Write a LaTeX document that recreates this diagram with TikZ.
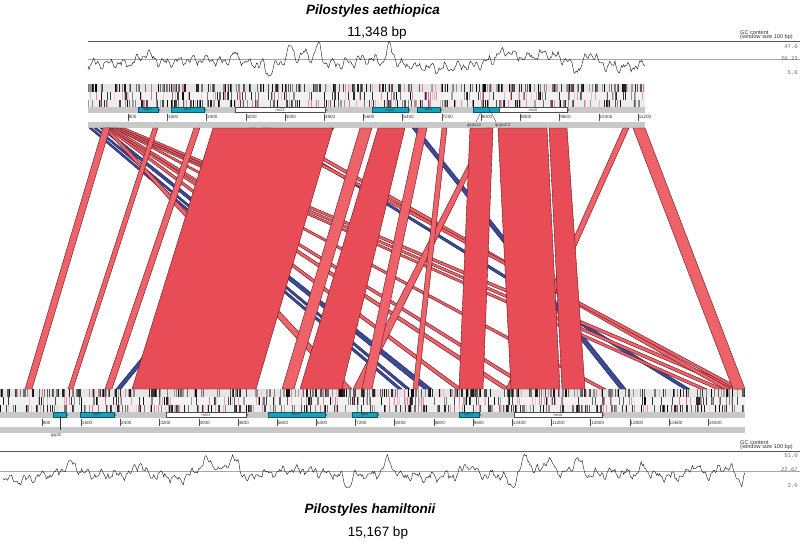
\documentclass[tikz,border=0pt]{standalone}
\usepackage{fontspec}
\setmainfont{Liberation Sans}
\newfontfamily\monof{Liberation Mono}
\definecolor{bandred}{RGB}{232,76,86}
\definecolor{bandlight}{RGB}{238,98,106}
\definecolor{bandedge}{RGB}{95,22,28}
\definecolor{bandblue}{RGB}{60,74,150}
\definecolor{blueedge}{RGB}{28,34,88}
\definecolor{genecyan}{RGB}{22,160,186}
\definecolor{barpink}{RGB}{222,110,152}
\definecolor{bargray}{RGB}{200,200,200}
\pgfmathdeclarefunction{bump}{3}{\pgfmathparse{exp(-1*(min(abs((#1-#2)/#3),4))^2)}}
\newcommand\xband[5]{\draw[#5] (#1,128) -- (#2,128) -- (#4,389) -- (#3,389) -- cycle;}
\newcommand\barrow[7]{% x0, len, y0, y1, n, colour, maxwidth
  \foreach \i in {1,...,#5}{%
    \pgfmathsetmacro\xx{#1+#2*rnd}%
    \pgfmathsetmacro\ww{0.25+#7*rnd}%
    \pgfmathtruncatemacro\gg{35+65*rnd}%
    \draw[line width=\ww pt, #6!\gg!white] (\xx,#3) -- (\xx,#4);
  }}
\newcommand\genebox[4]{% x0,x1,y0,label
  \draw[gene] (#1,#3) rectangle (#2,#3+5);
  \draw[tipline] (#2,#3+0.6) -- (#2+2.2,#3+2.5) -- (#2,#3+4.4);
  \node[genelab] at ({(#1+#2)/2},#3+2.5) {#4};}
\newcommand\rrnbox[4]{%
  \draw[rrn] (#1,#3) rectangle (#2,#3+5);
  \draw[tipline] (#2,#3+0.6) -- (#2+2.2,#3+2.5) -- (#2,#3+4.4);
  \node[genelab] at ({(#1+#2)/2},#3+2.5) {#4};}
\tikzset{
  redband/.style={fill=bandred, draw=bandedge, line width=0.4pt},
  lredband/.style={fill=bandlight, draw=bandedge, line width=0.4pt},
  blueband/.style={fill=bandblue, draw=blueedge, line width=0.4pt},
  gene/.style={fill=genecyan, draw=genecyan!55!black, line width=0.3pt},
  rrn/.style={fill=white, draw=black!70, line width=0.3pt},
  tipline/.style={draw=black!70, line width=0.3pt},
  genelab/.style={font=\fontsize{3.8}{4}\selectfont, inner sep=0pt, text=black!80},
  ticklab/.style={font=\fontsize{4.6}{5}\selectfont, inner sep=0pt, anchor=west, text=black!80},
  gclab/.style={font=\fontsize{5.6}{6}\selectfont, inner sep=0pt, anchor=south west, text=black!80, align=left},
  gcval/.style={font=\monof\fontsize{5.6}{6}\selectfont, inner sep=0pt, anchor=east, text=black!60},
  gcline/.style={line width=0.45pt, black!85},
  topline/.style={line width=0.7pt, black!65},
  midline/.style={line width=0.5pt, black!35},
  titlefont/.style={font=\fontsize{13.5}{15}\selectfont\bfseries\itshape},
  sizefont/.style={font=\fontsize{13.5}{15}\selectfont},
}
\begin{document}
\begin{tikzpicture}[x=1pt,y=-1pt]
\useasboundingbox (0,0) rectangle (800,546);
\fill[white] (0,0) rectangle (800,546);
\pgfmathsetseed{2718}

% ---------- titles ----------
\node[titlefont] (t1) at (373,11) {Pilostyles aethiopica};
\node[sizefont] (s1) at (377,33.5) {11,348 bp};
\node[titlefont] (t2) at (370,510) {Pilostyles hamiltonii};
\node[sizefont] (s2) at (378,533) {15,167 bp};

% ---------- top GC panel ----------
\node[gclab] (gc1) at (740,40.2) {GC content\\[-1.4pt](window size 100 bp)};
\draw[topline] (88,41) -- (800,41);
\draw[midline] (88,59) -- (800,59);
\node[gcval] at (798,47) {47.0};
\node[gcval] at (798,59) {26.23};
\node[gcval] at (798,73) {5.0};
\draw[gcline] plot[domain=88:645, samples=520, variable=\t]
  (\t, {max(41.6, min(76, 64 - 10*bump(\t,146,10) - 8*bump(\t,236,6) + 11*bump(\t,269,4) - 17*bump(\t,290,5)
        - 11*bump(\t,304,6) - 17*bump(\t,318,5) - 5*bump(\t,366,15) - 17*bump(\t,390,5)
        + 4*bump(\t,440,30) - 11*bump(\t,505,15) - 10*bump(\t,545,22) + 8*bump(\t,575,5)
        - 11*bump(\t,591,6) + 3*bump(\t,625,20) - 4*bump(\t,200,30)
        + 3.2*sin(mod(\t,14)*25.714) + 2.2*sin(mod(\t,6.3)*57.143+20) + 2.0*rand))});

% ---------- top tracks ----------
\fill[black!10] (88,84) rectangle (645,91.5);
\fill[black!5] (88,92) rectangle (645,99.5);
\fill[black!7] (88,100) rectangle (645,107);
\barrow{88}{557}{84}{91.5}{230}{black}{1.3}
\barrow{88}{557}{84}{91.5}{18}{black}{3.0}
\barrow{88}{557}{84}{91.5}{25}{barpink}{0.6}
\barrow{88}{557}{92}{99.5}{90}{black}{1.2}
\barrow{88}{557}{92}{99.5}{55}{barpink}{0.6}
\barrow{88}{557}{100}{107}{170}{black}{1.2}
\barrow{88}{557}{100}{107}{45}{barpink}{0.6}
\fill[bargray] (88,107) rectangle (645,113);
\genebox{138}{158}{107.5}{ψrpl2}
\genebox{171}{204}{107.5}{rps3}
\rrnbox{235}{325}{107.5}{rrn23}
\genebox{372}{408}{107.5}{accD}
\genebox{417}{440}{107.5}{rps4}
\draw[gene] (473,107.5) rectangle (489,112.5);
\genebox{489}{499}{107.5}{}
\rrnbox{499}{567}{107.5}{rrn16}
\fill[white] (88,113) rectangle (645,121.5);
\foreach \k in {1,...,14}{
  \pgfmathsetmacro\tx{88.8+\k*39.23}
  \pgfmathtruncatemacro\lab{\k*800}
  \draw[line width=0.35pt, black!70] (\tx,113.5) -- (\tx,120.5);
  \node[ticklab] at (\tx+0.6,117) {\lab};
}
\fill[bargray] (88,121.5) rectangle (645,128);
\draw[line width=0.35pt, black!80] (481,112) -- (476,122);
\draw[line width=0.35pt, black!80] (491,112) -- (496,122);
\node[genelab, font=\fontsize{4.4}{5}\selectfont] (l12) at (474,125) {ψrps12};
\node[genelab, font=\fontsize{4.4}{5}\selectfont] (lc2) at (503,125) {ψrpoC2};

% ---------- bottom tracks ----------
\fill[black!10] (0,389) rectangle (745,396.5);
\fill[black!5] (0,397) rectangle (745,404.5);
\fill[black!7] (0,405) rectangle (745,411.5);
\barrow{0}{745}{389}{396.5}{300}{black}{1.3}
\barrow{0}{745}{389}{396.5}{24}{black}{3.0}
\barrow{0}{745}{389}{396.5}{35}{barpink}{0.6}
\barrow{0}{745}{397}{404.5}{130}{black}{1.2}
\barrow{0}{745}{397}{404.5}{70}{barpink}{0.6}
\barrow{0}{745}{405}{411.5}{230}{black}{1.2}
\barrow{0}{745}{405}{411.5}{60}{barpink}{0.6}
\fill[bargray] (0,411.5) rectangle (745,418);
\genebox{53}{66}{412.2}{}
\genebox{80}{114}{412.2}{rps3}
\rrnbox{166}{246}{412.2}{rrn23}
\genebox{268}{325}{412.2}{accD}
\genebox{352}{377}{412.2}{rps4}
\genebox{459}{479}{412.2}{rps12}
\rrnbox{514}{602}{412.2}{rrn16}
\fill[white] (0,418) rectangle (745,427);
\foreach \k in {1,...,18}{
  \pgfmathsetmacro\tx{2.8+\k*39.18}
  \pgfmathtruncatemacro\lab{\k*800}
  \draw[line width=0.35pt, black!70] (\tx,418.5) -- (\tx,426);
  \node[ticklab] at (\tx+0.6,422.5) {\lab};
}
\fill[bargray] (0,427) rectangle (745,433);
\draw[line width=0.35pt, black!80] (60,416) -- (60,430);
\node[genelab, font=\fontsize{4.4}{5}\selectfont] (lp2) at (56,435.5) {ψrpl2};

% ---------- bottom GC panel ----------
\node[gclab] (gc2) at (740,450.2) {GC content\\[-1.4pt](window size 100 bp)};
\draw[topline] (0,451) -- (800,451);
\draw[midline] (0,471) -- (800,471);
\node[gcval] at (798,456) {51.0};
\node[gcval] at (798,470) {22.67};
\node[gcval] at (798,486) {3.0};
\draw[gcline] plot[domain=3:745, samples=680, variable=\t]
  (\t, {max(451.6, min(487.5, 475 - 11*bump(\t,71,10) - 11*bump(\t,139,6) + 5*bump(\t,178,8) - 15*bump(\t,207,10)
        - 17*bump(\t,232,8) + 5*bump(\t,250,5) - 5*bump(\t,298,30) + 12*bump(\t,347,5)
        - 14*bump(\t,388,7) + 2*bump(\t,425,25) - 10*bump(\t,468,8) + 12*bump(\t,511,5)
        - 21*bump(\t,526,5) - 14*bump(\t,548,10) - 16*bump(\t,577,6) - 2*bump(\t,615,20)
        - 8*bump(\t,644,6) + 2*bump(\t,673,10) - 10*bump(\t,695,6) - 8*bump(\t,725,10)
        + 8*bump(\t,741,4) + 6*bump(\t,20,15)
        + 3*sin(mod(\t,15)*24) + 2.1*sin(mod(\t,6.5)*55.385+50) + 2.0*rand))});

% ---------- homology bands: thin / crossing ----------
\xband{89}{92}{398}{402}{blueband}
\xband{94}{97}{406}{410}{blueband}
\xband{100}{104}{424}{432}{blueband}
\xband{262}{266}{684}{690}{blueband}
\xband{412}{417}{620}{626}{blueband}
\xband{330}{334}{116}{121}{blueband}
\xband{104}{108}{343}{352}{lredband}
\xband{106}{110}{456}{462}{lredband}
\xband{108}{112}{503}{510}{lredband}
\xband{110}{114}{528}{534}{lredband}
\xband{114}{118}{600}{606}{lredband}
\xband{112}{116}{700}{707}{lredband}
\xband{116}{120}{716}{724}{lredband}
\xband{120}{125}{734}{743}{lredband}
\xband{266}{272}{724}{731}{lredband}
\xband{250}{256}{736}{742}{lredband}
\xband{623}{629}{506}{512}{lredband}
\xband{633}{645}{733}{745}{lredband}
\xband{487}{492}{353}{362}{lredband}
\xband{442}{447}{413}{418}{lredband}
\xband{418}{427}{362}{372}{lredband}
\xband{103}{110}{25}{32}{lredband}
\xband{153}{158}{68}{73}{lredband}
\xband{194}{200}{105}{112}{lredband}
% ---------- homology bands: large ----------
\xband{360}{372}{282}{294}{lredband}
\xband{378}{405}{300}{342}{redband}
\xband{213}{333}{132}{256}{redband}
\xband{470}{493}{459}{483}{redband}
\xband{498}{547}{511}{560}{redband}
\xband{549}{567}{562}{585}{redband}
\end{tikzpicture}
\end{document}
